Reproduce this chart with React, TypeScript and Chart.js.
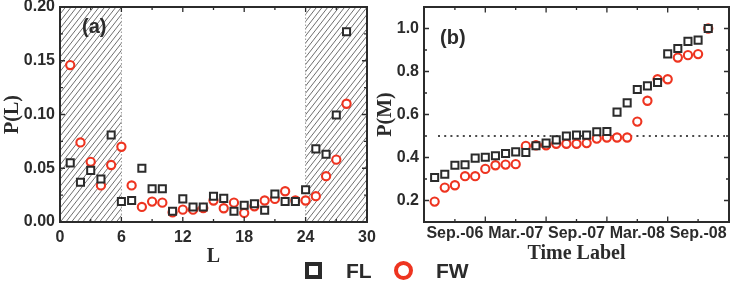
import React, { useEffect, useRef } from 'react';
import { Chart, registerables } from 'chart.js';

Chart.register(...registerables);

// ---------- Panel (a) data ----------
const L_VALUES = [1, 2, 3, 4, 5, 6, 7, 8, 9, 10, 11, 12, 13, 14, 15, 16, 17, 18, 19, 20, 21, 22, 23, 24, 25, 26, 27, 28];
const FL_PL = [0.055, 0.037, 0.048, 0.040, 0.081, 0.019, 0.020, 0.050, 0.031, 0.031, 0.010, 0.0215, 0.014, 0.014, 0.024, 0.022, 0.010, 0.0155, 0.017, 0.011, 0.026, 0.019, 0.019, 0.030, 0.068, 0.063, 0.0995, 0.177];
const FW_PL = [0.146, 0.074, 0.056, 0.034, 0.053, 0.070, 0.034, 0.014, 0.019, 0.018, 0.009, 0.0115, 0.0115, 0.013, 0.020, 0.0128, 0.018, 0.0084, 0.0146, 0.020, 0.0215, 0.0286, 0.020, 0.020, 0.024, 0.0426, 0.058, 0.110];
const L_TICKS = [0, 6, 12, 18, 24, 30];
const L_MINOR = [3, 9, 15, 21, 27];
const PL_TICKS = [0, 0.05, 0.1, 0.15, 0.2];
const PL_MINOR = [0.025, 0.075, 0.125, 0.175];
const HATCH_RANGES = [[0, 6], [24, 30]];

// ---------- Panel (b) data ----------
const TIME_INDEX = [0, 1, 2, 3, 4, 5, 6, 7, 8, 9, 10, 11, 12, 13, 14, 15, 16, 17, 18, 19, 20, 21, 22, 23, 24, 25, 26, 27];
const FL_PM = [0.307, 0.322, 0.364, 0.366, 0.397, 0.401, 0.408, 0.419, 0.426, 0.423, 0.455, 0.467, 0.482, 0.500, 0.504, 0.504, 0.520, 0.521, 0.611, 0.654, 0.716, 0.733, 0.749, 0.882, 0.907, 0.940, 0.946, 1.0];
const FW_PM = [0.195, 0.260, 0.271, 0.313, 0.313, 0.347, 0.364, 0.367, 0.369, 0.454, 0.457, 0.457, 0.464, 0.464, 0.464, 0.467, 0.488, 0.493, 0.493, 0.493, 0.567, 0.664, 0.764, 0.764, 0.865, 0.876, 0.881, 1.0];
const TIME_TICKS = [2, 8, 14, 20, 26];
const TIME_LABELS = ['Sep.-06', 'Mar.-07', 'Sep.-07', 'Mar.-08', 'Sep.-08'];
const TIME_LONG = [5, 11, 17, 23];
const PM_TICKS = [0.2, 0.4, 0.6, 0.8, 1.0];
const PM_MINOR = [0.3, 0.5, 0.7, 0.9];
const REF_LEVEL = 0.5;

const SERIES = ['FL', 'FW'];

const DARK = '#2b2b2b';
const RED = '#ee3420';
const TICK_FONT = { family: 'Liberation Sans, Arial, sans-serif', weight: 'bold' as const, size: 16 };
const TITLE_FONT = { family: 'Liberation Serif, Times New Roman, serif', weight: 'bold' as const, size: 20 };

type FrameCfg = {
  xMajor: number[]; xMinor: number[]; yMajor: number[]; yMinor: number[];
  xMajorLen?: number; xMinorLen?: number;
  hatch?: number[][]; ref?: number;
};

function makeFramePlugin(cfg: FrameCfg) {
  return {
    id: 'frameTicks',
    beforeDatasetsDraw(chart: any) {
      const { ctx, chartArea: a, scales } = chart;
      const xs = scales.x;
      if (cfg.hatch) {
        for (const [v0, v1] of cfg.hatch) {
          const x0 = xs.getPixelForValue(v0);
          const x1 = xs.getPixelForValue(v1);
          ctx.save();
          ctx.beginPath();
          ctx.rect(x0, a.top, x1 - x0, a.bottom - a.top);
          ctx.clip();
          ctx.strokeStyle = '#5e5e5e';
          ctx.lineWidth = 0.9;
          const h = a.bottom - a.top;
          const k = 0.78;
          const sp = 5.6;
          ctx.beginPath();
          for (let s = x0 - h * k - sp; s < x1 + sp; s += sp) {
            ctx.moveTo(s, a.bottom);
            ctx.lineTo(s + h * k, a.top);
          }
          ctx.stroke();
          ctx.restore();
          ctx.save();
          ctx.strokeStyle = '#999';
          ctx.lineWidth = 1;
          ctx.setLineDash([1.5, 2]);
          ctx.beginPath();
          for (const xx of [x0, x1]) {
            if (xx > a.left + 2 && xx < a.right - 2) {
              ctx.moveTo(xx, a.top);
              ctx.lineTo(xx, a.bottom);
            }
          }
          ctx.stroke();
          ctx.restore();
        }
      }
      if (cfg.ref !== undefined) {
        const y = scales.y.getPixelForValue(cfg.ref);
        ctx.save();
        ctx.strokeStyle = '#111';
        ctx.lineWidth = 1.6;
        ctx.setLineDash([2, 4.2]);
        ctx.beginPath();
        ctx.moveTo(a.left + 14, y);
        ctx.lineTo(a.right - 4, y);
        ctx.stroke();
        ctx.restore();
      }
    },
    afterDraw(chart: any) {
      const { ctx, chartArea: a, scales } = chart;
      const xs = scales.x;
      const ys = scales.y;
      ctx.save();
      ctx.strokeStyle = DARK;
      ctx.lineWidth = 1.3;
      const xMaj = cfg.xMajorLen ?? 5;
      const xMin = cfg.xMinorLen ?? 3;
      ctx.beginPath();
      const vx = (vals: number[], len: number) => {
        for (const v of vals) {
          const x = xs.getPixelForValue(v);
          ctx.moveTo(x, a.bottom); ctx.lineTo(x, a.bottom - len);
          ctx.moveTo(x, a.top); ctx.lineTo(x, a.top + len);
        }
      };
      const vy = (vals: number[], len: number) => {
        for (const v of vals) {
          const y = ys.getPixelForValue(v);
          ctx.moveTo(a.left, y); ctx.lineTo(a.left + len, y);
          ctx.moveTo(a.right, y); ctx.lineTo(a.right - len, y);
        }
      };
      vx(cfg.xMajor, xMaj);
      vx(cfg.xMinor, xMin);
      vy(cfg.yMajor, 5);
      vy(cfg.yMinor, 3);
      ctx.stroke();
      ctx.lineWidth = 2;
      ctx.strokeRect(a.left, a.top, a.right - a.left, a.bottom - a.top);
      ctx.restore();
    },
  };
}

function fitX(h: number) {
  return (s: any) => {
    s.height = h;
    s.paddingLeft = 0; s.paddingRight = 0; s.paddingTop = 0; s.paddingBottom = 0;
  };
}
function fitY(w: number) {
  return (s: any) => {
    s.width = w;
    s.paddingLeft = 0; s.paddingRight = 0; s.paddingTop = 0; s.paddingBottom = 0;
  };
}

const CANVAS_H = 285;
const PLOT_BOTTOM = 222;
const PLOT_TOP = 7;

function datasets(x: number[], a: number[], b: number[]) {
  return [
    {
      label: SERIES[0],
      data: x.map((v, i) => ({ x: v, y: a[i] })),
      pointStyle: 'rect',
      pointRadius: 5,
      borderWidth: 2,
      borderColor: DARK,
      backgroundColor: '#ffffff',
    },
    {
      label: SERIES[1],
      data: x.map((v, i) => ({ x: v, y: b[i] })),
      pointStyle: 'circle',
      pointRadius: 4.1,
      borderWidth: 2.1,
      borderColor: RED,
      backgroundColor: '#ffffff',
    },
  ];
}

function PanelA() {
  const ref = useRef<HTMLCanvasElement>(null);
  useEffect(() => {
    const chart = new Chart(ref.current!, {
      type: 'scatter',
      data: { datasets: datasets(L_VALUES, FL_PL, FW_PL) as any },
      options: {
        animation: false,
        responsive: false,
        devicePixelRatio: 1,
        events: [],
        layout: { padding: { top: PLOT_TOP, right: 13, left: 0, bottom: 0 } },
        plugins: { legend: { display: false }, tooltip: { enabled: false } },
        scales: {
          x: {
            type: 'linear', min: 0, max: 30,
            afterFit: fitX(CANVAS_H - PLOT_BOTTOM),
            afterBuildTicks: (s: any) => { s.ticks = L_TICKS.map((v) => ({ value: v })); },
            grid: { display: false, drawTicks: false },
            border: { display: false },
            ticks: { font: TICK_FONT, color: DARK, padding: 6, maxRotation: 0, autoSkip: false, callback: (v: any) => String(v) },
            title: { display: true, text: 'L', font: TITLE_FONT, color: DARK, padding: { top: 0, bottom: 16 } },
          },
          y: {
            type: 'linear', min: 0, max: 0.2,
            afterFit: fitY(60),
            afterBuildTicks: (s: any) => { s.ticks = PL_TICKS.map((v) => ({ value: v })); },
            grid: { display: false, drawTicks: false },
            border: { display: false },
            ticks: { font: TICK_FONT, color: DARK, padding: 5, autoSkip: false, callback: (v: any) => Number(v).toFixed(2) },
            title: { display: true, text: 'P(L)', font: TITLE_FONT, color: DARK, padding: { top: 1, bottom: 0 } },
          },
        },
      } as any,
      plugins: [makeFramePlugin({ xMajor: L_TICKS, xMinor: L_MINOR, yMajor: PL_TICKS, yMinor: PL_MINOR, hatch: HATCH_RANGES })],
    });
    return () => chart.destroy();
  }, []);
  return <canvas ref={ref} width={380} height={CANVAS_H} style={{ position: 'absolute', left: 0, top: 0 }} />;
}

function PanelB() {
  const ref = useRef<HTMLCanvasElement>(null);
  useEffect(() => {
    const chart = new Chart(ref.current!, {
      type: 'scatter',
      data: { datasets: datasets(TIME_INDEX, FL_PM, FW_PM) as any },
      options: {
        animation: false,
        responsive: false,
        devicePixelRatio: 1,
        events: [],
        layout: { padding: { top: PLOT_TOP, right: 4, left: 0, bottom: 0 } },
        plugins: { legend: { display: false }, tooltip: { enabled: false } },
        scales: {
          x: {
            type: 'linear', min: -1.05, max: 29.05,
            afterFit: fitX(CANVAS_H - PLOT_BOTTOM),
            afterBuildTicks: (s: any) => { s.ticks = TIME_TICKS.map((v) => ({ value: v })); },
            grid: { display: false, drawTicks: false },
            border: { display: false },
            ticks: {
              font: TICK_FONT, color: DARK, padding: 2, maxRotation: 0, autoSkip: false,
              callback: (v: any) => TIME_LABELS[TIME_TICKS.indexOf(Number(v))] ?? '',
            },
            title: { display: true, text: 'Time Label', font: TITLE_FONT, color: DARK, padding: { top: 0, bottom: 19 } },
          },
          y: {
            type: 'linear', min: 0.1, max: 1.1,
            afterFit: fitY(54),
            afterBuildTicks: (s: any) => { s.ticks = PM_TICKS.map((v) => ({ value: v })); },
            grid: { display: false, drawTicks: false },
            border: { display: false },
            ticks: { font: TICK_FONT, color: DARK, padding: 5, autoSkip: false, callback: (v: any) => Number(v).toFixed(1) },
            title: { display: true, text: 'P(M)', font: TITLE_FONT, color: DARK, padding: { top: 3.5, bottom: 0 } },
          },
        },
      } as any,
      plugins: [makeFramePlugin({ xMajor: TIME_LONG, xMinor: TIME_TICKS, xMajorLen: 5.5, xMinorLen: 3, yMajor: PM_TICKS, yMinor: PM_MINOR, ref: REF_LEVEL })],
    });
    return () => chart.destroy();
  }, []);
  return <canvas ref={ref} width={366} height={CANVAS_H} style={{ position: 'absolute', left: 370, top: 0 }} />;
}

export default function App() {
  const legendText: React.CSSProperties = {
    position: 'absolute', top: 259, fontFamily: 'Liberation Sans, Arial, sans-serif', fontWeight: 'bold',
    fontSize: 21, lineHeight: '24px', color: DARK,
  };
  const panelLabel: React.CSSProperties = {
    position: 'absolute', fontFamily: 'Liberation Sans, Arial, sans-serif', fontWeight: 'bold', fontSize: 20, color: DARK, lineHeight: '24px',
  };
  return (
    <div style={{ position: 'absolute', left: 0, top: 0, width: 736, height: 285, background: '#fff', overflow: 'hidden' }}>
      <PanelA />
      <PanelB />
      <div style={{ ...panelLabel, left: 82, top: 14 }}>(a)</div>
      <div style={{ ...panelLabel, left: 440, top: 25 }}>(b)</div>
      <div style={{ position: 'absolute', left: 305, top: 262, width: 17, height: 17, boxSizing: 'border-box', border: `4px solid ${DARK}`, background: '#fff' }} />
      <div style={{ ...legendText, left: 346 }}>{SERIES[0]}</div>
      <div style={{ position: 'absolute', left: 394, top: 261, width: 19, height: 19, boxSizing: 'border-box', border: `4px solid ${RED}`, borderRadius: '50%', background: '#fff' }} />
      <div style={{ ...legendText, left: 436 }}>{SERIES[1]}</div>
    </div>
  );
}
